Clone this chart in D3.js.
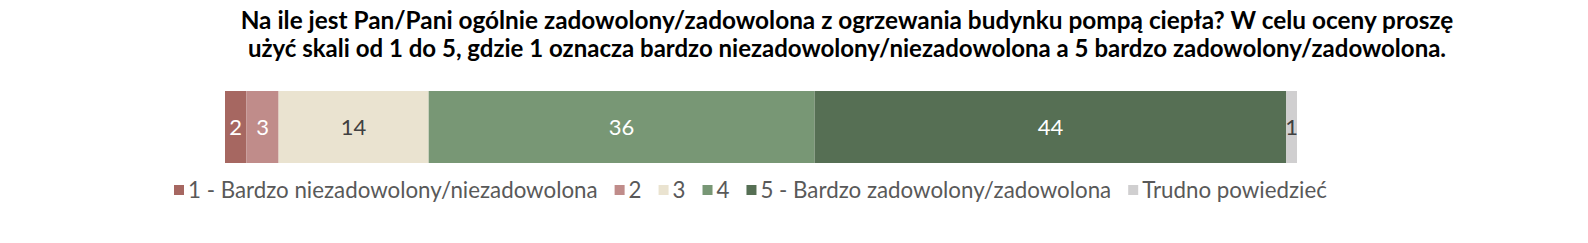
<!DOCTYPE html>
<html>
<head>
<meta charset="utf-8">
<script src="https://cdn.jsdelivr.net/npm/d3@7"></script>
<style>
  html, body { margin: 0; padding: 0; background: #fff; }
  svg { display: block; font-family: Lato, "Open Sans", sans-serif; }
</style>
</head>
<body>
<div id="chart"></div>
<script>
// chart data
var titleLines = [
    "Na ile jest Pan/Pani ogólnie zadowolony/zadowolona z ogrzewania budynku pompą ciepła? W celu oceny proszę",
    "użyć skali od 1 do 5, gdzie 1 oznacza bardzo niezadowolony/niezadowolona a 5 bardzo zadowolony/zadowolona."
];
var categories = ["1 - Bardzo niezadowolony/niezadowolona", "2", "3", "4", "5 - Bardzo zadowolony/zadowolona", "Trudno powiedzieć"];
var values = [2, 3, 14, 36, 44, 1];
var colors = ["#a66761", "#c08c8a", "#eae3d0", "#789775", "#566f54", "#d0cfd0"];
var labelColors = ["#ffffff", "#ffffff", "#404040", "#ffffff", "#ffffff", "#404040"];

var width = 1588, height = 243;

var svg = d3.select("#chart")
    .append("svg")
    .attr("width", width)
    .attr("height", height);

// title, fitted to the reference width
var titleG = svg.append("g").attr("class", "title");
var titleWidths = [1213, 1199];
titleLines.forEach(function (t, i) {
    var txt = titleG.append("text")
        .attr("x", 847)
        .attr("y", 29 + i * 28)
        .attr("text-anchor", "middle")
        .style("font-weight", "bold")
        .style("font-size", "20px")
        .attr("fill", "#000")
        .text(t);
    var w = txt.node().getComputedTextLength();
    txt.style("font-size", (20 * titleWidths[i] / w).toFixed(2) + "px");
});

// stacked bar
var starts = [];
var acc = 0;
values.forEach(function (v) { starts.push(acc); acc += v; });

var x = d3.scaleLinear()
    .domain([0, d3.sum(values)])
    .range([225, 1297]);

var y = d3.scaleBand()
    .domain(["q"])
    .range([91, 163])
    .padding(0);

var seg = svg.selectAll(".seg")
    .data(values)
    .enter()
    .append("g")
    .attr("class", "seg");

seg.append("rect")
    .attr("x", function (d, i) { return x(starts[i]); })
    .attr("y", y("q"))
    .attr("width", function (d, i) { return x(starts[i] + d) - x(starts[i]); })
    .attr("height", y.bandwidth())
    .attr("fill", function (d, i) { return colors[i]; });

seg.append("text")
    .attr("x", function (d, i) { return x(starts[i] + d / 2); })
    .attr("y", y("q") + y.bandwidth() / 2)
    .attr("dy", "0.36em")
    .attr("text-anchor", "middle")
    .style("font-size", "22px")
    .attr("fill", function (d, i) { return labelColors[i]; })
    .text(function (d) { return d; });

// legend: measure at 18px, then scale font so it spans like the reference
var legend = svg.append("g").attr("class", "legend").attr("transform", "translate(174,190)");
var sq = 10, textGap = 14, itemGap = 17;
var items = legend.selectAll(".item")
    .data(categories)
    .enter()
    .append("g")
    .attr("class", "item");

items.append("rect")
    .attr("x", 0)
    .attr("y", -sq / 2)
    .attr("width", sq)
    .attr("height", sq)
    .attr("fill", function (d, i) { return colors[i]; });

var ltext = items.append("text")
    .attr("x", textGap)
    .attr("dy", "0.35em")
    .style("font-size", "18px")
    .attr("fill", "#595959")
    .text(function (d) { return d; });

var sumW = 0;
ltext.each(function () { sumW += this.getComputedTextLength(); });
var legendWidth = 1153;
var fs = 18 * (legendWidth - categories.length * textGap - (categories.length - 1) * itemGap) / sumW;
ltext.style("font-size", fs.toFixed(2) + "px");

var lx = 0;
items.each(function (d, i) {
    d3.select(this).attr("transform", "translate(" + lx + ",0)");
    lx += textGap + d3.select(this).select("text").node().getComputedTextLength() + itemGap;
});
</script>
</body>
</html>
